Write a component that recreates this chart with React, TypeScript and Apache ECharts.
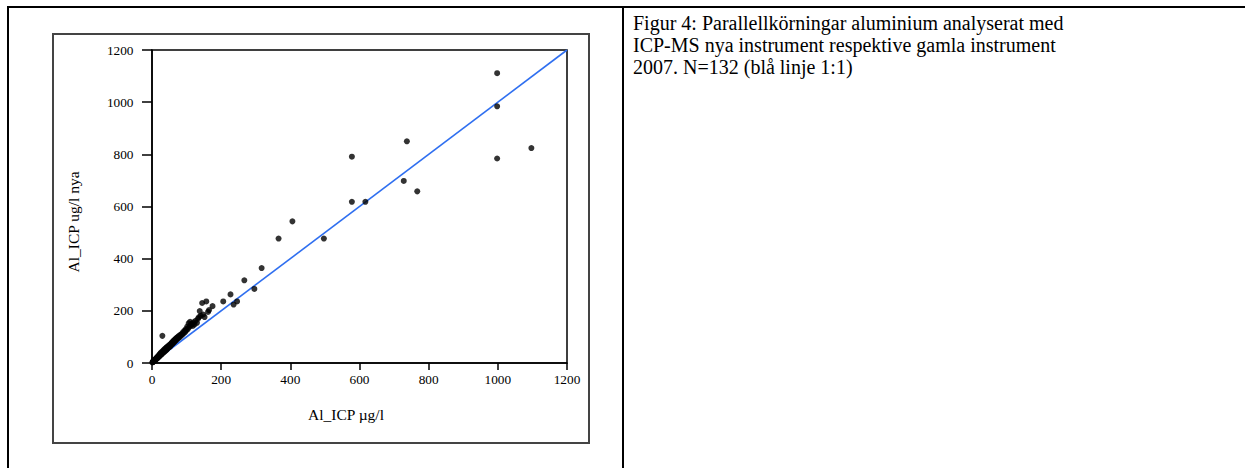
import React, { useEffect, useRef } from "react";
import * as echarts from "echarts";

// Parallel runs, aluminium: old instrument (x) vs new instrument (y), µg/l
const lowRangePairs: [number, number][] = [
  [1, 2], [2, 3], [3, 4], [3, 6], [4, 5], [5, 8], [6, 7], [6, 10], [7, 9], [8, 12],
  [9, 11], [10, 15], [11, 13], [12, 18], [13, 16], [14, 21], [15, 18], [16, 24], [17, 20], [18, 26],
  [19, 23], [20, 29], [21, 25], [22, 33], [23, 28], [24, 36], [25, 31], [26, 40], [27, 33], [28, 38],
  [29, 35], [30, 45], [31, 39], [32, 42], [33, 48], [34, 41], [35, 51], [36, 46], [37, 44], [38, 55],
  [39, 48], [40, 52], [41, 58], [42, 50], [43, 61], [44, 54], [45, 57], [46, 64], [47, 59], [48, 62],
  [49, 68], [50, 61], [51, 66], [52, 71], [53, 64], [54, 69], [55, 74], [56, 70], [57, 77], [58, 72],
  [59, 80], [60, 75], [61, 83], [62, 78], [63, 86], [64, 80], [65, 88], [66, 84], [67, 91], [68, 86],
  [69, 94], [70, 88], [72, 97], [73, 92], [75, 100], [76, 95], [78, 104], [80, 99], [82, 108], [84, 105],
  [86, 112], [88, 109], [90, 118], [92, 114], [94, 124], [96, 119], [98, 130], [100, 126], [102, 140], [104, 131],
  [106, 152], [108, 138], [110, 158], [112, 144], [115, 150], [118, 142], [120, 156], [123, 148], [126, 162], [130, 154],
  [133, 170], [136, 176], [138, 199], [141, 181], [145, 230], [148, 186], [152, 176], [157, 236], [162, 196], [165, 203],
  [175, 218],
];

const highRangePairs: [number, number][] = [
  [30, 104], [206, 236], [227, 263], [236, 224], [246, 236], [267, 317], [296, 284],
  [317, 364], [366, 477], [406, 543], [497, 477], [578, 618], [578, 791], [617, 618],
  [728, 698], [737, 850], [767, 658], [998, 784], [998, 984], [998, 1111], [1097, 824],
];

const identityLine: [number, number][] = [[0, 0], [1200, 1200]];
const axisTicks = [0, 200, 400, 600, 800, 1000, 1200];

const xTitle = "Al_ICP µg/l";
const yTitle = "Al_ICP ug/l nya";
const captionLines = [
  "Figur 4: Parallellkörningar aluminium analyserat med",
  "ICP-MS nya instrument respektive gamla instrument",
  "2007. N=132 (blå linje 1:1)",
];

const SERIF = "'Liberation Serif', 'Times New Roman', serif";

export default function App() {
  const ref = useRef<HTMLDivElement>(null);

  useEffect(() => {
    if (!ref.current) return;
    const chart = echarts.init(ref.current, undefined, { renderer: "svg" });
    const axisMin = axisTicks[0];
    const axisMax = axisTicks[axisTicks.length - 1];
    const step = axisTicks[1] - axisTicks[0];

    const axisCommon = {
      type: "value" as const,
      min: axisMin,
      max: axisMax,
      interval: step,
      splitLine: { show: false },
      axisLine: { show: true, lineStyle: { color: "#000", width: 1.5 } },
      axisLabel: {
        color: "#000",
        fontFamily: SERIF,
        fontSize: 13.3,
        formatter: (v: number) => String(v),
      },
    };

    chart.setOption({
      animation: false,
      backgroundColor: "#fff",
      grid: {
        left: 152,
        top: 50,
        width: 415,
        height: 313,
        show: true,
        borderColor: "#000",
        borderWidth: 1.5,
        backgroundColor: "transparent",
      },
      xAxis: {
        ...axisCommon,
        axisTick: { show: true, inside: false, length: 7, lineStyle: { color: "#000", width: 1.5 } },
        axisLabel: { ...axisCommon.axisLabel, margin: 10 },
      },
      yAxis: {
        ...axisCommon,
        axisTick: { show: true, inside: false, length: 10, lineStyle: { color: "#000", width: 1.5 } },
        axisLabel: { ...axisCommon.axisLabel, margin: 18.5 },
      },
      series: [
        {
          type: "line",
          data: identityLine,
          symbol: "none",
          z: 1,
          lineStyle: { color: "#2f6ff0", width: 1.6 },
        },
        {
          type: "scatter",
          data: [...lowRangePairs, ...highRangePairs],
          symbol: "circle",
          symbolSize: 6,
          z: 3,
          itemStyle: { color: "#000" },
        },
      ],
      graphic: [
        // table rules
        { type: "line", shape: { x1: 7, y1: 7, x2: 1245, y2: 7 }, style: { stroke: "#000", lineWidth: 2 } },
        { type: "line", shape: { x1: 8, y1: 6, x2: 8, y2: 468 }, style: { stroke: "#000", lineWidth: 2 } },
        { type: "line", shape: { x1: 623, y1: 6, x2: 623, y2: 468 }, style: { stroke: "#000", lineWidth: 2 } },
        // chart frame
        {
          type: "rect",
          shape: { x: 53, y: 34, width: 536, height: 409 },
          style: { fill: "none", stroke: "#444", lineWidth: 2 },
        },
        // axis titles
        {
          type: "text",
          x: 346,
          y: 414,
          style: {
            text: xTitle,
            fontFamily: SERIF,
            fontSize: 15.5,
            fill: "#000",
            align: "center",
            verticalAlign: "middle",
          },
        },
        {
          type: "text",
          x: 73,
          y: 222,
          rotation: Math.PI / 2,
          style: {
            text: yTitle,
            fontFamily: SERIF,
            fontSize: 15.5,
            fill: "#000",
            align: "center",
            verticalAlign: "middle",
          },
        },
        // caption, one block of three lines
        {
          type: "text",
          x: 633,
          y: 11.5,
          style: {
            text: captionLines.join("\n"),
            fontFamily: SERIF,
            fontSize: 20,
            lineHeight: 22.3,
            fill: "#000",
            align: "left",
            verticalAlign: "top",
          },
        },
      ],
    });

    return () => chart.dispose();
  }, []);

  return (
    <div
      ref={ref}
      style={{ position: "fixed", left: 0, top: 0, width: 1245, height: 468, background: "#fff" }}
    />
  );
}
